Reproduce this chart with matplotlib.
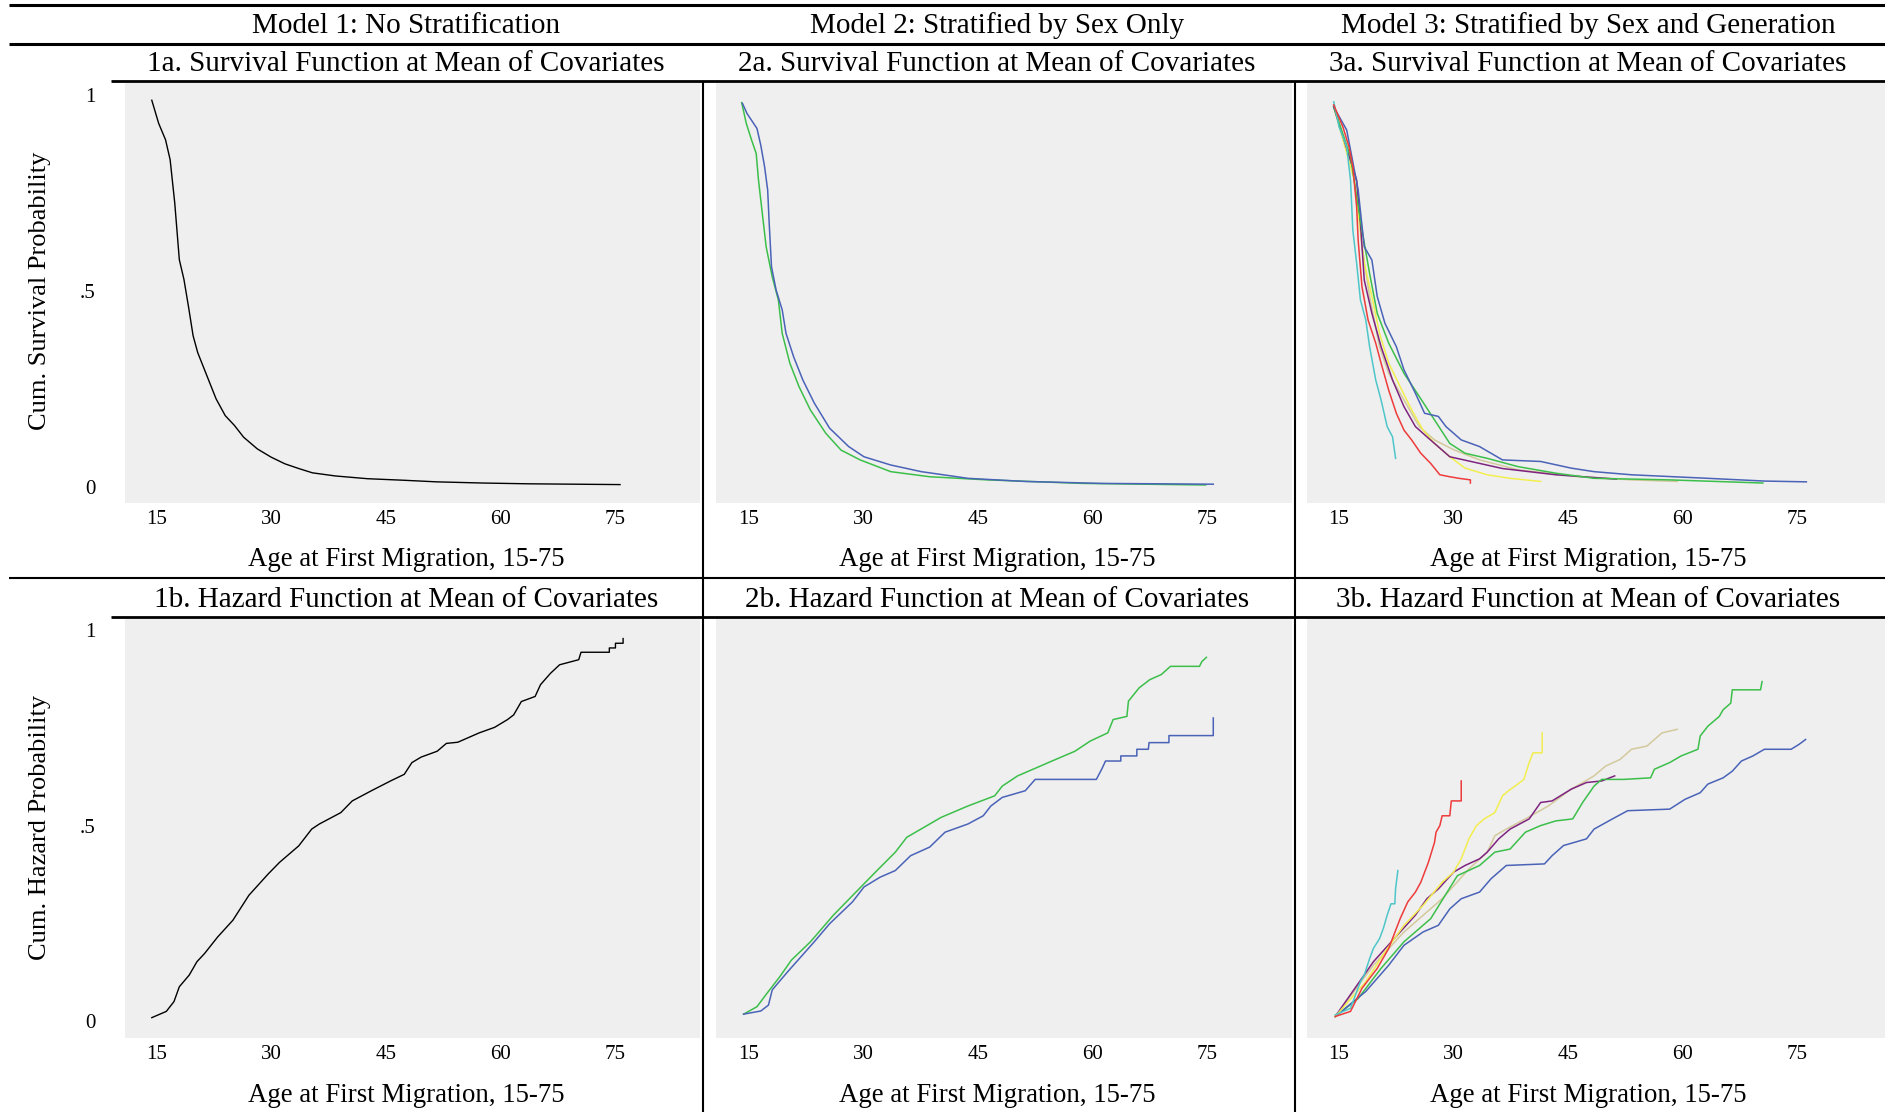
import numpy as np
import matplotlib
matplotlib.use("Agg")
import matplotlib.pyplot as plt
from matplotlib.lines import Line2D

plt.rcParams['font.family'] = ['Liberation Serif', 'DejaVu Serif']

# ---- data (age, cumulative probability) ----
# 1a survival, no stratification
s1_age = [14.4, 15.3, 16.2, 16.8, 17.4, 18.0, 18.6, 19.2, 19.8, 20.4, 21.6, 22.8, 24.0, 25.2,
          26.4, 28.2, 30.0, 31.8, 33.6, 35.4, 38.4, 42.6, 47.4, 51.6, 57.6, 63.6, 75.6]
s1_val = [0.987, 0.928, 0.886, 0.835, 0.725, 0.58, 0.53, 0.46, 0.386, 0.343, 0.284, 0.225, 0.182,
          0.157, 0.127, 0.097, 0.076, 0.059, 0.047, 0.036, 0.028, 0.021, 0.017, 0.013, 0.010, 0.008, 0.006]

# 1b hazard, no stratification
h1_age = [14.4, 16.3, 17.3, 18.0, 19.3, 20.3, 21.3, 23.0, 25.0, 27.1, 29.6, 31.1, 33.6, 35.3, 36.3,
          39.1, 40.6, 43.1, 45.6, 47.4, 48.4, 49.6, 51.7, 52.9, 54.4, 57.2, 59.2, 60.9, 61.7, 62.7,
          64.5, 65.2, 66.5, 67.7, 70.2, 70.5, 74.2, 74.2, 75.0, 75.0, 76.0, 76.0]
h1_val = [0.009, 0.025, 0.050, 0.088, 0.118, 0.152, 0.173, 0.215, 0.258, 0.322, 0.376, 0.406, 0.448,
          0.491, 0.504, 0.533, 0.563, 0.589, 0.614, 0.631, 0.661, 0.675, 0.690, 0.710, 0.713, 0.737,
          0.751, 0.771, 0.783, 0.817, 0.830, 0.860, 0.889, 0.911, 0.924, 0.943, 0.943, 0.954, 0.954,
          0.966, 0.966, 0.978]

# 2a survival by sex
s2_blue_age = [14.2, 14.8, 16.1, 16.6, 17.1, 17.5, 17.7, 18.0, 18.6, 19.4, 19.9, 20.9, 22.1, 23.6,
               25.6, 28.1, 30.1, 33.6, 37.6, 43.7, 51.2, 61.2, 75.8]
s2_blue_val = [0.979, 0.953, 0.915, 0.872, 0.817, 0.758, 0.673, 0.562, 0.503, 0.452, 0.392, 0.332,
               0.273, 0.214, 0.150, 0.103, 0.077, 0.056, 0.039, 0.022, 0.014, 0.009, 0.007]
s2_green_age = [14.1, 14.7, 15.4, 16.0, 16.3, 16.8, 17.3, 18.1, 18.9, 19.4, 20.4, 21.6, 23.1, 25.1,
                27.1, 29.6, 33.6, 38.7, 46.2, 58.7, 74.8]
s2_green_val = [0.981, 0.928, 0.885, 0.851, 0.783, 0.698, 0.613, 0.536, 0.477, 0.392, 0.316, 0.256,
                0.196, 0.137, 0.094, 0.069, 0.039, 0.026, 0.018, 0.009, 0.005]

# 2b hazard by sex
h2_green_age = [14.35, 16.1, 17.4, 19.1, 20.6, 23.1, 26.1, 28.6, 31.6, 34.2, 35.7, 37.2, 40.2, 43.7,
                47.2, 48.2, 50.2, 52.7, 54.7, 57.7, 59.7, 62.0, 62.7, 64.5, 64.7, 66.1, 67.5, 69.0,
                70.2, 74.0, 74.3, 74.9]
h2_green_val = [0.018, 0.037, 0.071, 0.114, 0.156, 0.203, 0.271, 0.321, 0.381, 0.432, 0.470, 0.487,
                0.521, 0.550, 0.576, 0.601, 0.627, 0.648, 0.665, 0.690, 0.716, 0.737, 0.771, 0.779,
                0.818, 0.852, 0.873, 0.886, 0.907, 0.907, 0.919, 0.930]
h2_blue_age = [14.35, 16.6, 17.6, 18.1, 20.1, 23.6, 25.6, 28.6, 30.1, 32.2, 34.2, 36.2, 38.7, 40.7,
               43.7, 45.7, 46.7, 48.2, 51.2, 52.5, 60.5, 61.2, 61.7, 63.7, 63.7, 65.8, 65.8, 67.3,
               67.4, 70.0, 70.0, 75.8, 75.8]
h2_blue_val = [0.018, 0.026, 0.041, 0.080, 0.126, 0.203, 0.249, 0.305, 0.343, 0.368, 0.385, 0.423,
               0.445, 0.483, 0.504, 0.525, 0.550, 0.572, 0.589, 0.618, 0.618, 0.644, 0.665, 0.665,
               0.678, 0.678, 0.695, 0.695, 0.712, 0.712, 0.730, 0.730, 0.775]

# 3a survival by sex and generation
s3_cyan_age = [14.3, 15.0, 16.0, 16.5, 16.8, 17.3, 17.8, 18.5, 19.0, 19.8, 20.5, 21.3, 22.0, 22.4]
s3_cyan_val = [0.983, 0.919, 0.868, 0.783, 0.656, 0.571, 0.477, 0.426, 0.358, 0.273, 0.222, 0.154,
               0.128, 0.073]
s3_red_age = [14.3, 15.5, 16.3, 16.8, 17.3, 17.5, 18.0, 18.8, 19.8, 20.5, 21.5, 22.5, 23.5, 24.5,
              25.7, 27.0, 28.2, 29.5, 30.7, 32.2, 32.2]
s3_red_val = [0.975, 0.919, 0.868, 0.817, 0.715, 0.630, 0.511, 0.426, 0.367, 0.316, 0.247, 0.188,
              0.145, 0.120, 0.086, 0.060, 0.031, 0.026, 0.022, 0.018, 0.010]
s3_yellow_age = [14.3, 17.0, 17.5, 18.3, 19.3, 20.3, 21.5, 23.0, 24.5, 26.0, 27.5, 29.5, 31.5, 34.4,
                 37.4, 41.4]
s3_yellow_val = [0.970, 0.783, 0.698, 0.571, 0.486, 0.392, 0.316, 0.256, 0.197, 0.145, 0.111, 0.077,
                 0.048, 0.031, 0.022, 0.014]
s3_purple_age = [14.3, 17.3, 17.8, 18.3, 19.3, 20.5, 22.0, 23.5, 25.0, 26.5, 29.5, 32.5, 36.4, 43.4,
                 51.3]
s3_purple_val = [0.970, 0.783, 0.673, 0.528, 0.443, 0.358, 0.273, 0.205, 0.154, 0.128, 0.077, 0.064,
                 0.047, 0.031, 0.020]
s3_tan_age = [14.3, 17.3, 18.0, 19.0, 20.3, 21.5, 23.5, 25.5, 27.5, 30.0, 33.4, 38.4, 45.9, 53.3, 59.3]
s3_tan_val = [0.975, 0.783, 0.613, 0.486, 0.358, 0.290, 0.222, 0.154, 0.120, 0.095, 0.069, 0.044,
              0.027, 0.018, 0.014]
s3_green_age = [14.3, 16.5, 17.3, 18.0, 19.0, 20.0, 21.5, 23.5, 25.5, 27.5, 29.5, 31.5, 34.4, 38.4,
                43.4, 48.4, 58.3, 70.5]
s3_green_val = [0.970, 0.843, 0.741, 0.656, 0.545, 0.443, 0.367, 0.290, 0.231, 0.171, 0.111, 0.086,
                0.073, 0.052, 0.035, 0.022, 0.018, 0.010]
s3_blue_age = [14.3, 16.0, 17.0, 17.5, 18.3, 19.3, 20.0, 21.0, 22.5, 23.5, 25.0, 26.2, 28.0, 29.0,
               31.0, 33.4, 36.4, 41.4, 45.4, 48.4, 53.3, 63.3, 70.7, 76.2]
s3_blue_val = [0.970, 0.911, 0.809, 0.758, 0.613, 0.579, 0.486, 0.418, 0.358, 0.299, 0.239, 0.188,
               0.180, 0.154, 0.120, 0.103, 0.069, 0.065, 0.048, 0.039, 0.031, 0.022, 0.015, 0.013]

# 3b hazard by sex and generation
h3_cyan_age = [14.5, 16.5, 17.8, 18.3, 19.0, 19.5, 20.3, 20.8, 21.3, 21.8, 22.3, 22.4, 22.7]
h3_cyan_val = [0.016, 0.033, 0.101, 0.118, 0.160, 0.186, 0.211, 0.237, 0.271, 0.300, 0.300, 0.338, 0.385]
h3_red_age = [14.5, 16.5, 18.0, 20.0, 21.5, 23.0, 24.0, 25.0, 25.7, 26.7, 27.5, 27.7, 28.2, 28.5,
              29.5, 29.7, 31.0, 31.0]
h3_red_val = [0.012, 0.025, 0.084, 0.135, 0.186, 0.262, 0.305, 0.330, 0.355, 0.406, 0.457, 0.483,
              0.500, 0.525, 0.525, 0.563, 0.563, 0.614]
h3_yellow_age = [14.5, 18.5, 21.0, 23.5, 26.0, 28.5, 30.0, 31.0, 32.0, 33.0, 34.0, 35.4, 36.4, 37.2,
                 38.4, 39.2, 39.9, 40.4, 41.6, 41.6]
h3_yellow_val = [0.012, 0.101, 0.177, 0.245, 0.296, 0.355, 0.381, 0.415, 0.466, 0.500, 0.517, 0.533,
                 0.576, 0.589, 0.606, 0.618, 0.661, 0.686, 0.686, 0.737]
h3_tan_age = [14.5, 19.5, 23.5, 28.5, 32.0, 34.4, 35.4, 36.9, 39.4, 42.4, 45.4, 48.4, 49.9, 51.8,
              53.3, 55.3, 56.3, 57.3, 59.3]
h3_tan_val = [0.012, 0.143, 0.228, 0.313, 0.389, 0.432, 0.474, 0.491, 0.517, 0.550, 0.593, 0.627,
              0.652, 0.669, 0.695, 0.703, 0.720, 0.737, 0.746]
h3_purple_age = [14.5, 19.5, 23.0, 25.0, 26.5, 28.0, 30.0, 31.5, 33.4, 34.4, 35.9, 37.4, 39.9, 41.4,
                 42.9, 45.4, 47.4, 49.4, 51.1]
h3_purple_val = [0.012, 0.152, 0.228, 0.271, 0.313, 0.338, 0.381, 0.398, 0.415, 0.432, 0.466, 0.491,
                 0.517, 0.559, 0.563, 0.593, 0.610, 0.614, 0.627]
h3_green_age = [14.5, 17.5, 20.5, 23.5, 27.0, 30.5, 33.4, 35.4, 37.4, 39.4, 41.4, 43.4, 45.6, 46.9,
                48.4, 49.4, 52.3, 55.8, 56.3, 58.3, 59.8, 62.0, 62.3, 63.3, 64.8, 65.3, 66.3, 66.5,
                70.2, 70.4]
h3_green_val = [0.012, 0.058, 0.135, 0.203, 0.262, 0.372, 0.398, 0.432, 0.440, 0.483, 0.500, 0.512,
                0.517, 0.559, 0.601, 0.618, 0.618, 0.622, 0.644, 0.661, 0.678, 0.695, 0.729, 0.754,
                0.779, 0.796, 0.813, 0.847, 0.847, 0.868]
h3_blue_age = [14.5, 18.5, 21.5, 23.5, 26.0, 28.0, 29.5, 31.0, 33.4, 34.9, 36.9, 41.9, 42.9, 44.4,
               47.4, 48.4, 50.8, 52.8, 58.3, 60.3, 62.3, 63.3, 65.3, 66.5, 67.7, 69.2, 70.7, 74.2,
               75.2, 76.1]
h3_blue_val = [0.012, 0.076, 0.143, 0.194, 0.228, 0.245, 0.287, 0.313, 0.330, 0.364, 0.398, 0.402,
               0.423, 0.449, 0.466, 0.491, 0.517, 0.538, 0.542, 0.567, 0.584, 0.606, 0.622, 0.639,
               0.665, 0.678, 0.695, 0.695, 0.707, 0.720]

headers = ["Model 1: No Stratification", "Model 2: Stratified by Sex Only",
           "Model 3: Stratified by Sex and Generation"]
titles_a = ["1a. Survival Function at Mean of Covariates", "2a. Survival Function at Mean of Covariates",
            "3a. Survival Function at Mean of Covariates"]
titles_b = ["1b. Hazard Function at Mean of Covariates", "2b. Hazard Function at Mean of Covariates",
            "3b. Hazard Function at Mean of Covariates"]
xticks = [15, 30, 45, 60, 75]
yticks = [0, 0.5, 1]
ytick_labels = ["0", ".5", "1"]

C_BLUE = "#4a63b8"
C_GREEN = "#3cbf4a"
C_RED = "#ee3b3b"
C_CYAN = "#4ec6c9"
C_YELLOW = "#f2ee50"
C_PURPLE = "#7e2480"
C_TAN = "#d3c99c"

W, H = 1885, 1112
fig = plt.figure(figsize=(W / 100, H / 100), dpi=100)


def fx(x):
    return x / W


def fy(y):
    return 1 - y / H


def hline(y, x0, x1, lw):
    fig.add_artist(Line2D([fx(x0), fx(x1)], [fy(y), fy(y)], color="black", lw=lw,
                          transform=fig.transFigure, solid_capstyle="butt"))


def vline(x, y0, y1, lw):
    fig.add_artist(Line2D([fx(x), fx(x)], [fy(y0), fy(y1)], color="black", lw=lw,
                          transform=fig.transFigure, solid_capstyle="butt"))


# panel boxes in pixels: (left, right), (top, bottom)
cols = [(125, 700), (716, 1292), (1307, 1885)]
xlims = [(10.9, 86.05), (10.74, 86.1), (10.8, 86.5)]
rows = [(83, 503), (619, 1038)]
ylims = [(-0.041, 1.031), (-0.043, 1.028)]
col_centers = [406, 997, 1588]

series = [
    [[(s1_age, s1_val, "black")],
     [(h1_age, h1_val, "black")]],
    [[(s2_green_age, s2_green_val, C_GREEN), (s2_blue_age, s2_blue_val, C_BLUE)],
     [(h2_green_age, h2_green_val, C_GREEN), (h2_blue_age, h2_blue_val, C_BLUE)]],
    [[(s3_tan_age, s3_tan_val, C_TAN), (s3_yellow_age, s3_yellow_val, C_YELLOW),
      (s3_purple_age, s3_purple_val, C_PURPLE), (s3_green_age, s3_green_val, C_GREEN),
      (s3_blue_age, s3_blue_val, C_BLUE), (s3_cyan_age, s3_cyan_val, C_CYAN),
      (s3_red_age, s3_red_val, C_RED)],
     [(h3_tan_age, h3_tan_val, C_TAN), (h3_purple_age, h3_purple_val, C_PURPLE),
      (h3_green_age, h3_green_val, C_GREEN), (h3_blue_age, h3_blue_val, C_BLUE),
      (h3_yellow_age, h3_yellow_val, C_YELLOW), (h3_cyan_age, h3_cyan_val, C_CYAN),
      (h3_red_age, h3_red_val, C_RED)]],
]

for c in range(3):
    for r in range(2):
        (l, rr), (t, b) = cols[c], rows[r]
        ax = fig.add_axes([fx(l), fy(b), fx(rr - l), (b - t) / H])
        ax.set_facecolor("#efefef")
        for sp in ax.spines.values():
            sp.set_visible(False)
        for a, v, col in series[c][r]:
            ax.plot(a, v, color=col, lw=1.1 if col != "black" else 1.0)
        ax.set_xlim(*xlims[c])
        ax.set_ylim(*ylims[r])
        ax.set_xticks(xticks)
        ax.tick_params(axis="x", length=0, pad=5, labelsize=15)
        if c == 0:
            ax.set_yticks(yticks)
            ax.set_yticklabels(ytick_labels)
            ax.tick_params(axis="y", length=0, pad=21, labelsize=15)
        else:
            ax.set_yticks([])

# text
for c in range(3):
    fig.text(fx(col_centers[c]), fy(26), headers[c], ha="center", va="center", fontsize=21)
    fig.text(fx(col_centers[c]), fy(64), titles_a[c], ha="center", va="center", fontsize=21)
    fig.text(fx(col_centers[c]), fy(600), titles_b[c], ha="center", va="center", fontsize=21)
    fig.text(fx(col_centers[c]), fy(560), "Age at First Migration, 15-75", ha="center", va="center",
             fontsize=19.3)
    fig.text(fx(col_centers[c]), fy(1096), "Age at First Migration, 15-75", ha="center", va="center",
             fontsize=19.3)

fig.text(fx(40), fy(291), "Cum. Survival Probability", rotation=90, ha="center", va="center",
         fontsize=19)
fig.text(fx(40), fy(827), "Cum. Hazard Probability", rotation=90, ha="center", va="center",
         fontsize=19)

# table rules
hline(5, 9, W, 2.2)
hline(44, 9, W, 2.2)
hline(81, 111, W, 2.0)
hline(578, 9, W, 1.5)
hline(617, 111, W, 2.0)
vline(703, 81, H, 1.5)
vline(1295, 81, H, 1.5)

fig.savefig("out.png", dpi=100)
